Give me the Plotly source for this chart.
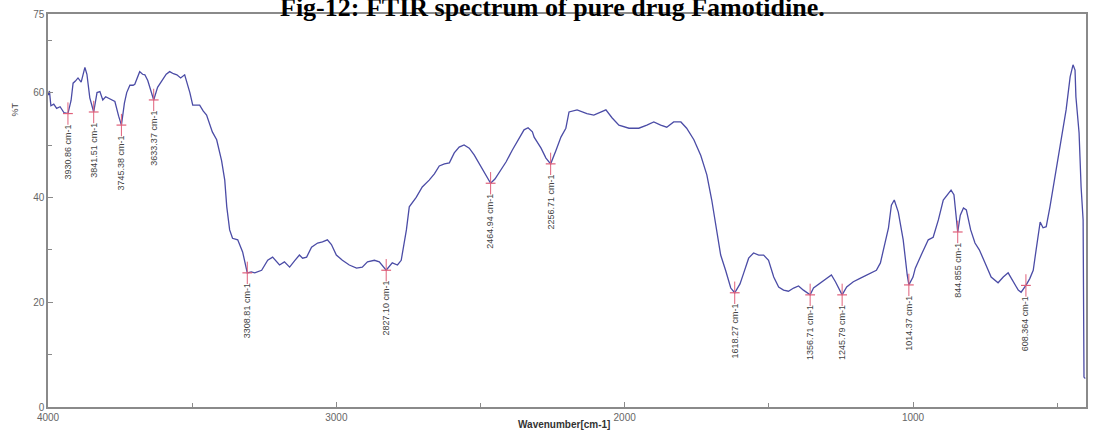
import plotly.graph_objects as go

# FTIR spectrum of famotidine: wavenumber (cm-1) vs transmittance (%T)
wavenumber = [
    4000, 3995, 3990, 3980, 3970, 3958, 3945, 3930.86, 3920, 3913, 3905, 3896,
    3885, 3872, 3865, 3855, 3841.51, 3830, 3820, 3810, 3800, 3792, 3780, 3768,
    3755, 3745.38, 3735, 3727, 3716, 3705, 3699, 3690, 3682, 3672, 3664, 3654,
    3645, 3633.37, 3620, 3605, 3590, 3578, 3565, 3553, 3540, 3526, 3515, 3508,
    3498, 3485, 3474, 3462, 3450, 3430, 3415, 3398, 3387, 3380, 3370, 3360,
    3342, 3325, 3315, 3308.81, 3295, 3283, 3259, 3238, 3221, 3197, 3180, 3162,
    3145, 3128, 3117, 3103, 3086, 3065, 3048, 3031, 3017, 3000, 2979, 2955,
    2930, 2910, 2892, 2868, 2851, 2840, 2827.10, 2806, 2788, 2775, 2757, 2747,
    2723, 2702, 2678, 2660, 2643, 2625, 2608, 2591, 2574, 2557, 2539, 2522,
    2498, 2477, 2464.94, 2450, 2435, 2411, 2390, 2366, 2349, 2335, 2320, 2314,
    2290, 2273, 2256.71, 2238, 2221, 2204, 2193, 2165, 2131, 2107, 2089, 2065,
    2044, 2020, 1985, 1951, 1923, 1899, 1875, 1854, 1830, 1805, 1785, 1760,
    1736, 1715, 1698, 1681, 1667, 1650, 1632, 1618.27, 1600, 1587, 1570, 1553,
    1535, 1518, 1501, 1483, 1466, 1449, 1432, 1414, 1397, 1380, 1356.71, 1345,
    1317, 1300, 1283, 1269, 1245.79, 1230, 1207, 1182, 1162, 1144, 1127, 1113,
    1103, 1085, 1075, 1065, 1051, 1034, 1020, 1014.37, 1000, 992, 975, 964,
    947, 930, 912, 895, 880, 868, 858, 851, 844.855, 836, 825, 815, 800,
    785, 770, 750, 729, 705, 687, 670, 660, 646, 635, 625, 608.364, 595,
    583, 573, 566, 559, 549, 538, 525, 514, 504, 487, 469, 455, 445, 438,
    435, 424, 417, 410, 407, 404, 402, 400,
]
transmittance = [
    59.5, 60.3, 57.5, 57.8, 57.0, 57.3, 56.2, 56.0, 58.5, 61.8, 62.2, 62.8,
    62.0, 64.8, 63.5, 59.0, 56.3, 60.0, 60.2, 58.6, 59.2, 59.0, 58.6, 58.3,
    55.5, 53.8, 58.0, 60.0, 61.4, 61.4, 61.6, 63.0, 64.0, 63.5, 63.4, 62.3,
    60.5, 58.6, 61.0, 62.3, 63.5, 64.0, 63.6, 63.4, 62.8, 63.4, 61.5, 60.0,
    57.6, 57.6, 57.6, 56.5, 55.7, 52.5, 51.0, 47.0, 43.3, 38.2, 33.8, 32.2,
    31.9, 29.6, 27.0, 25.6, 25.8, 25.6, 26.1, 28.0, 28.6, 27.1, 27.7, 26.7,
    27.9, 29.0, 28.4, 28.6, 30.5, 31.3, 31.5, 31.9, 31.0, 29.0, 28.0, 27.1,
    26.5, 26.7, 27.7, 28.0, 27.7, 26.9, 26.1, 27.5, 27.1, 28.0, 33.8, 38.2,
    40.0, 42.0, 43.3, 44.5, 46.0, 46.4, 46.6, 48.5, 49.6, 50.0, 49.4, 48.1,
    45.8, 43.9, 42.7, 43.5, 44.7, 46.8, 49.0, 51.3, 52.9, 53.3, 52.5, 51.5,
    49.4, 47.5, 46.4, 49.0, 51.5, 53.2, 56.3, 56.7, 56.0, 55.7, 56.1, 56.7,
    55.2, 53.8, 53.2, 53.2, 53.8, 54.4, 53.8, 53.4, 54.4, 54.4, 53.2, 51.0,
    48.0, 44.3, 39.5, 33.8, 29.0, 26.1, 22.7, 21.8, 23.5, 25.6, 28.4, 29.4,
    29.0, 29.0, 28.0, 24.8, 22.9, 22.3, 22.1, 22.7, 23.1, 22.3, 21.4, 22.7,
    23.9, 24.6, 25.2, 23.9, 21.4, 22.9, 23.9, 24.6, 25.2, 25.6, 26.1, 27.5,
    30.0, 34.2, 38.5, 39.5, 37.2, 31.9, 25.2, 23.3, 24.8, 26.5, 28.6, 30.0,
    31.9, 32.4, 35.7, 39.5, 40.6, 41.4, 40.5, 37.0, 33.4, 36.6, 38.0, 37.6,
    33.8, 31.3, 30.0, 27.5, 24.8, 23.7, 24.8, 25.6, 24.6, 23.2, 22.3, 21.9,
    23.2, 24.5, 26.1, 30.0, 32.4, 35.3, 34.2, 34.4, 38.2, 42.0, 45.2, 51.0,
    56.7, 63.0, 65.3, 64.3, 59.2, 52.3, 42.0, 35.7, 5.7, 5.5, 5.5,
]

# picked absorption bands
peak_wn = [3930.86, 3841.51, 3745.38, 3633.37, 3308.81, 2827.10, 2464.94,
           2256.71, 1618.27, 1356.71, 1245.79, 1014.37, 844.855, 608.364]
peak_labels = ["3930.86", "3841.51", "3745.38", "3633.37", "3308.81", "2827.10",
               "2464.94", "2256.71", "1618.27", "1356.71", "1245.79", "1014.37",
               "844.855", "608.364"]
peak_t = [transmittance[wavenumber.index(w)] for w in peak_wn]

x_ticks = [4000, 3000, 2000, 1000, 400]
y_ticks = [0, 20, 40, 60, 75]

LINE = "#4b4ca6"
MARK = "#e0607a"
AXIS = "#8a8a8a"
SANS = "Liberation Sans, Arial, sans-serif"
TICKFONT = dict(family=SANS, size=10, color="#666666")

fig = go.Figure()
fig.add_trace(go.Scatter(
    x=wavenumber, y=transmittance, mode="lines",
    line=dict(color=LINE, width=1.3), hoverinfo="skip", showlegend=False,
))
# peak pick marks: a short vertical stroke with a small cross bar
fig.add_trace(go.Scatter(
    x=peak_wn, y=peak_t, mode="markers",
    marker=dict(symbol="line-ns-open", size=16, color=MARK,
                line=dict(color=MARK, width=1)),
    hoverinfo="skip", showlegend=False,
))
fig.add_trace(go.Scatter(
    x=peak_wn, y=peak_t, mode="markers",
    marker=dict(symbol="line-ew-open", size=7, color=MARK,
                line=dict(color=MARK, width=1.2)),
    hoverinfo="skip", showlegend=False,
))

for w, t, lab in zip(peak_wn, peak_t, peak_labels):
    fig.add_annotation(
        x=w, y=t, xref="x", yref="y",
        text=f"{lab} cm-1", textangle=-90, showarrow=False,
        xanchor="center", yanchor="middle", yshift=-38,
        font=dict(family=SANS, size=9, color="#444444"),
    )

fig.add_annotation(
    text="<b>Fig-12: FTIR spectrum of pure drug Famotidine.</b>",
    xref="paper", yref="paper", x=0.4856, y=1, xanchor="center", yanchor="bottom",
    yshift=-9, showarrow=False, borderpad=0,
    font=dict(family="Liberation Serif, Times New Roman, serif", size=26, color="#000000"),
)
fig.add_annotation(
    text="%T", xref="paper", yref="paper", x=0, y=0.78, xshift=-40,
    textangle=-90, showarrow=False,
    font=dict(family=SANS, size=9, color="#444444"),
)
fig.add_annotation(
    text="<b>Wavenumber[cm-1]</b>", xref="paper", yref="paper",
    x=0.497, y=0, yshift=-25, yanchor="bottom", showarrow=False,
    font=dict(family=SANS, size=10, color="#333333"),
)

fig.update_xaxes(
    range=[4000, 400], tickmode="array", tickvals=x_ticks,
    ticktext=[str(v) for v in x_ticks],
    ticks="inside", ticklen=5, tickcolor=AXIS, tickfont=TICKFONT,
    minor=dict(tick0=0, dtick=500, ticks="inside", ticklen=4, tickcolor=AXIS),
    showline=True, linecolor=AXIS, linewidth=1.5, mirror=True,
    showgrid=False, zeroline=False,
)
fig.update_yaxes(
    range=[0, 75], tickmode="array", tickvals=y_ticks,
    ticktext=[str(v) for v in y_ticks],
    ticks="inside", ticklen=5, tickcolor=AXIS, tickfont=TICKFONT,
    minor=dict(tick0=0, dtick=10, ticks="inside", ticklen=4, tickcolor=AXIS),
    showline=True, linecolor=AXIS, linewidth=1.5, mirror=True,
    showgrid=False, zeroline=False,
)
fig.update_layout(
    width=1093, height=432,
    margin=dict(l=48, r=5, t=14, b=25),
    paper_bgcolor="white", plot_bgcolor="white",
    showlegend=False,
)
fig.write_html("out.html")
